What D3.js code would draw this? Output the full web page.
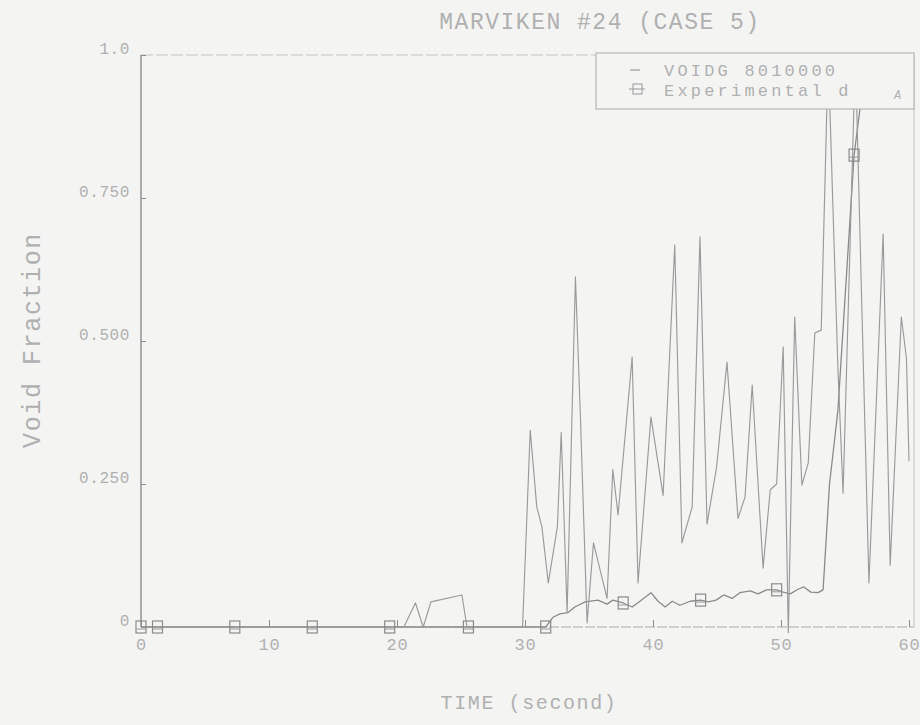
<!DOCTYPE html>
<html>
<head>
<meta charset="utf-8">
<script src="https://cdn.jsdelivr.net/npm/d3@7"></script>
<style>
  html, body { margin: 0; padding: 0; background: #f4f4f3; }
  svg { display: block; }
  text { font-family: "Liberation Mono", "DejaVu Sans Mono", monospace; fill: #b0b0b0; }
</style>
</head>
<body>
<svg id="chart" width="920" height="725"></svg>
<script>
// Marviken test 24, case 5: calculated void fraction against measured data
const chartTitle = "MARVIKEN #24  (CASE 5)";
const xTicks = [0, 10, 20, 30, 40, 50, 60];
const yTicks = [0, 0.25, 0.5, 0.75, 1.0];
const yTickLabels = ["0", "0.250", "0.500", "0.750", "1.0"];
const seriesNames = ["VOIDG 8010000", "Experimental d"];

// Calculated void fraction (VOIDG 8010000): time [s], value
const voidgTime = [0, 20.54, 21.44, 22.05, 22.65, 25.07, 25.47, 29.81, 30.41, 30.92, 31.32, 31.82, 32.53,
  32.83, 33.29, 33.94, 34.34, 34.85, 35.35, 36.41, 36.86, 37.27, 38.37, 38.83, 39.84, 40.79, 41.7,
  42.26, 43.06, 43.67, 44.22, 44.97, 45.78, 46.64, 47.19, 47.75, 48.6, 49.16, 49.66, 50.17, 50.57,
  51.07, 51.63, 52.13, 52.64, 53.14, 53.69, 54.45, 54.85, 55.81, 56.87, 57.98, 58.53, 59.4, 59.8, 60.0];
const voidgValue = [0, 0, 0.042, 0, 0.044, 0.056, 0, 0, 0.344, 0.21, 0.175, 0.077, 0.175,
  0.34, 0.025, 0.612, 0.36, 0.007, 0.147, 0.05, 0.275, 0.196, 0.472, 0.077, 0.367, 0.23, 0.668,
  0.147, 0.21, 0.682, 0.18, 0.28, 0.463, 0.19, 0.227, 0.423, 0.103, 0.24, 0.25, 0.49, -0.01,
  0.542, 0.248, 0.287, 0.514, 0.519, 1.0, 0.45, 0.234, 1.0, 0.077, 0.687, 0.108, 0.542, 0.47, 0.29];

// Measured void fraction: time [s], value
const expTime = [0, 1.29, 7.33, 13.38, 19.43, 25.58, 31.62, 32.18, 32.73, 33.34, 33.89, 34.7, 35.7,
  36.41, 36.86, 37.67, 38.37, 38.98, 39.84, 40.39, 40.95, 41.5, 42.1, 42.91, 43.72, 44.32, 44.93,
  45.53, 46.18, 46.79, 47.6, 48.2, 48.86, 49.66, 50.17, 50.72, 51.33, 51.78, 52.33, 52.89, 53.29,
  53.79, 54.2, 54.45, 55.71, 56.31, 56.92, 58.03, 59.03, 60.0];
const expValue = [0, 0, 0, 0, 0, 0, 0, 0.017, 0.023, 0.025, 0.035, 0.044, 0.047,
  0.04, 0.047, 0.042, 0.035, 0.045, 0.06, 0.045, 0.035, 0.045, 0.038, 0.045, 0.047, 0.044, 0.047,
  0.056, 0.05, 0.06, 0.063, 0.058, 0.065, 0.065, 0.061, 0.058, 0.066, 0.07, 0.061, 0.06, 0.065,
  0.25, 0.33, 0.38, 0.825, 0.93, 0.99, 1.0, 0.98, 1.0];
// Times of the measured points that carry a square symbol
const expMarkerTime = [0, 1.29, 7.33, 13.38, 19.43, 25.58, 31.62, 37.67, 43.72, 49.66, 55.71];

const svg = d3.select("#chart");
const W = 920, H = 725;
const plot = { left: 141, right: 909, frameRight: 914, top: 55, bottom: 627 };

svg.append("rect").attr("width", W).attr("height", H).attr("fill", "#f4f4f3");

const x = d3.scaleLinear().domain([0, 60]).range([plot.left, plot.right]);
const y = d3.scaleLinear().domain([0, 1]).range([plot.bottom, plot.top]);

const ink = "#8c8c8c";

// Frame: solid left axis, dashed bottom axis, faint top and right edges
svg.append("line").attr("x1", plot.left).attr("x2", plot.left).attr("y1", plot.top).attr("y2", plot.bottom)
  .attr("stroke", ink).attr("stroke-width", 1.4);
svg.append("line").attr("x1", plot.left).attr("x2", plot.frameRight).attr("y1", plot.bottom).attr("y2", plot.bottom)
  .attr("stroke", "#ababab").attr("stroke-width", 1.2).attr("stroke-dasharray", "10,2");
svg.append("line").attr("x1", plot.left).attr("x2", 597).attr("y1", plot.top).attr("y2", plot.top)
  .attr("stroke", "#c4c4c4").attr("stroke-width", 1.2).attr("stroke-dasharray", "12,3");
svg.append("line").attr("x1", plot.frameRight).attr("x2", plot.frameRight).attr("y1", plot.top).attr("y2", plot.bottom)
  .attr("stroke", "#c6c6c6").attr("stroke-width", 1.1);

// Y axis ticks and labels
const yAxis = d3.axisLeft(y).tickValues(yTicks).tickSize(0).tickPadding(0)
  .tickFormat((d, i) => yTickLabels[i]);
const gy = svg.append("g").attr("transform", `translate(${plot.left},0)`).call(yAxis);
gy.select(".domain").remove();
gy.selectAll(".tick").append("line").attr("x1", 0).attr("x2", 5).attr("stroke", ink);
gy.selectAll(".tick text").attr("x", -11).attr("dy", "-0.1em")
  .style("font-size", "16px").style("letter-spacing", "0.6px").attr("fill", "#b0b0b0");

// X axis ticks and labels
const xAxis = d3.axisBottom(x).tickValues(xTicks).tickSize(0).tickPadding(0).tickFormat(d3.format("d"));
const gx = svg.append("g").attr("transform", `translate(0,${plot.bottom})`).call(xAxis);
gx.select(".domain").remove();
gx.selectAll(".tick").append("line").attr("y1", 0).attr("y2", -7).attr("stroke", ink);
gx.selectAll(".tick text").attr("y", 11).attr("dy", "0.71em")
  .style("font-size", "17px").style("letter-spacing", "0.8px").attr("fill", "#b0b0b0");

// Axis titles
svg.append("text").attr("x", 529).attr("y", 709).attr("text-anchor", "middle")
  .style("font-size", "20px").style("letter-spacing", "1.6px").text("TIME (second)");
svg.append("text").attr("transform", "translate(40,340) rotate(-90)").attr("text-anchor", "middle")
  .style("font-size", "25px").style("letter-spacing", "1.6px").text("Void Fraction");

// Title
svg.append("text").attr("x", 600).attr("y", 29).attr("text-anchor", "middle")
  .style("font-size", "23px").style("letter-spacing", "1.5px").attr("fill", "#b3b3b3").text(chartTitle);

const line = d3.line().x(d => x(d[0])).y(d => y(d[1]));

const expData = expTime.map((t, i) => [t, expValue[i]]);
const voidgData = voidgTime.map((t, i) => [t, voidgValue[i]]);

svg.append("path").datum(expData).attr("d", line).attr("fill", "none")
  .attr("stroke", "#8a8a8a").attr("stroke-width", 1.3).attr("stroke-linejoin", "round");
svg.append("path").datum(voidgData).attr("d", line).attr("fill", "none")
  .attr("stroke", "#9a9a9a").attr("stroke-width", 1.15).attr("stroke-linejoin", "round");

// Square symbols on the measured curve
const expAt = d3.scaleLinear().domain(expTime).range(expValue);
const markerData = expMarkerTime.map(t => [t, expAt(t)]);
const marks = svg.append("g").selectAll("g").data(markerData).join("g")
  .attr("transform", d => `translate(${x(d[0])},${y(d[1])})`);
marks.append("rect").attr("x", -5).attr("y", -6).attr("width", 10).attr("height", 12)
  .attr("fill", "none").attr("stroke", "#8a8a8a").attr("stroke-width", 1.2);
marks.append("line").attr("x1", -5).attr("x2", 5).attr("y1", 2).attr("y2", 2)
  .attr("stroke", "#9a9a9a").attr("stroke-width", 1);

// Legend box drawn over the plot
const lg = svg.append("g");
lg.append("rect").attr("x", 596).attr("y", plot.top - 2).attr("width", plot.frameRight - 596).attr("height", 56)
  .attr("fill", "#f4f4f3").attr("stroke", "#b6b6b6").attr("stroke-width", 1.2);
lg.append("line").attr("x1", 630).attr("x2", 640).attr("y1", 70).attr("y2", 70)
  .attr("stroke", "#a0a0a0").attr("stroke-width", 1.3);
lg.append("rect").attr("x", 633).attr("y", 84).attr("width", 9).attr("height", 10)
  .attr("fill", "none").attr("stroke", "#a0a0a0").attr("stroke-width", 1.1);
lg.append("line").attr("x1", 629).attr("x2", 645).attr("y1", 89).attr("y2", 89)
  .attr("stroke", "#a0a0a0").attr("stroke-width", 1.1);
lg.selectAll("text.name").data(seriesNames).join("text").attr("class", "name")
  .attr("x", 664).attr("y", (d, i) => 76 + i * 20)
  .style("font-size", "17px").style("letter-spacing", "3.2px").text(d => d);
lg.append("text").attr("x", 894).attr("y", 99).style("font-size", "12px").style("font-style", "italic").text("A");
</script>
</body>
</html>
